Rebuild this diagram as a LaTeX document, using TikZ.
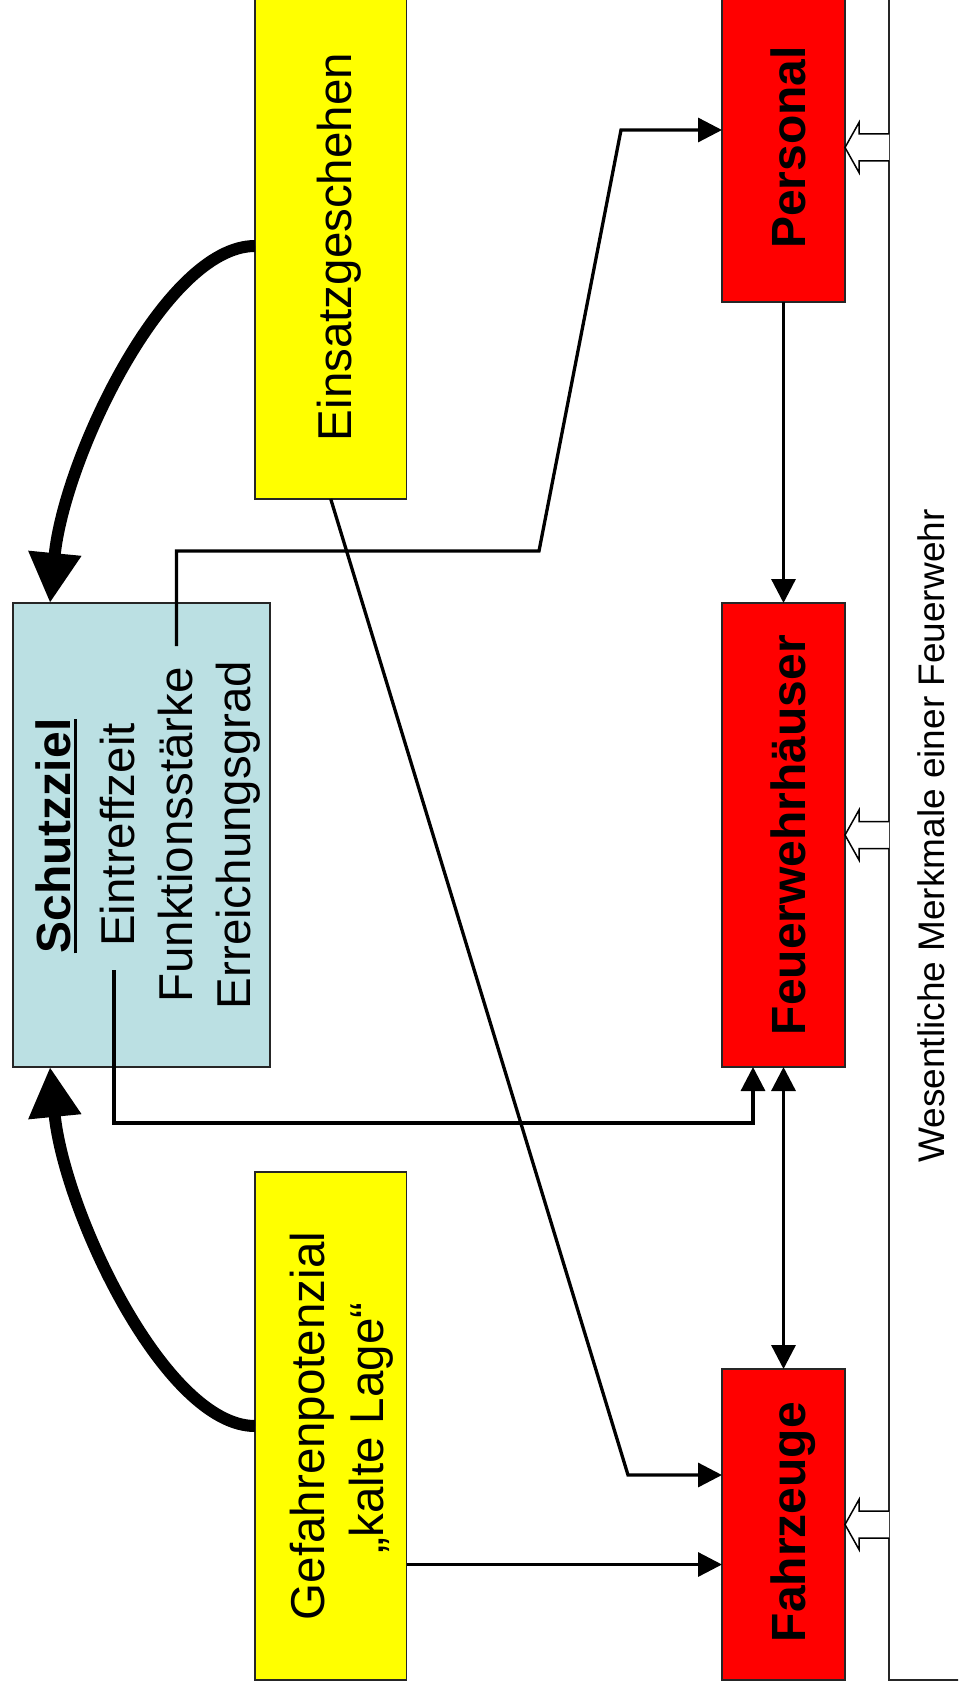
\documentclass[tikz,border=0pt]{standalone}
\usepackage{fontspec}
\setmainfont{Liberation Sans}
\usetikzlibrary{arrows.meta,calc}
\definecolor{boxyellow}{RGB}{255,255,0}
\definecolor{boxred}{RGB}{255,0,0}
\definecolor{boxblue}{RGB}{187,224,227}
\newsavebox\ulbx
\newcommand\ulword[1]{\sbox\ulbx{#1}\rlap{\rule[-7pt]{\wd\ulbx}{3pt}}\usebox\ulbx}
\begin{document}
\begin{tikzpicture}[x=1pt,y=-1pt,
  box/.style={draw=black!85, line width=1.5pt, rectangle, inner sep=0pt, outer sep=0pt},
  lbl/.style={rotate=90, anchor=base, inner sep=0pt},
  big/.style={font=\fontsize{47.5}{56}\selectfont},
  bigbold/.style={font=\fontsize{48}{56}\selectfont\bfseries},
  thinarr/.style={line width=3.3pt, -{Triangle[length=24pt,width=24pt]}},
  twoarr/.style={line width=3.3pt, {Triangle[length=24pt,width=24pt]}-{Triangle[length=24pt,width=24pt]}},
  thickarr/.style={line width=12pt, -{Triangle[length=50pt,width=50pt]}},
  hollowarr/.style={draw=black, line width=1.5pt, fill=white, line join=miter}
]
\useasboundingbox (0,0) rectangle (958,1693);
\clip (0,0) rectangle (958,1693);

% frame holding the characteristics of a fire brigade
\node[box, minimum width=200pt, minimum height=1800pt, anchor=south west] (merk) at (889,1680) {};

% boxes
\node[box, fill=boxyellow, minimum width=151.5pt, minimum height=506pt] (einsatz) at (330.75,246) {};
\node[box, fill=boxyellow, minimum width=151.5pt, minimum height=508pt] (gefahr) at (330.75,1426) {};
\node[box, fill=boxblue, minimum width=257pt, minimum height=464pt] (schutz) at (141.5,835) {};
\node[box, fill=boxred, minimum width=123pt, minimum height=309pt] (pers) at (783.5,147.5) {};
\node[box, fill=boxred, minimum width=123pt, minimum height=464pt] (fwh) at (783.5,835) {};
\node[box, fill=boxred, minimum width=123pt, minimum height=311pt] (fz) at (783.5,1524.5) {};

% block arrows from the frame to the red boxes
\foreach \b in {pers,fwh,fz}
  \draw[hollowarr] ($(\b.east)+(44,-13.5)$) -- ++(-30,0) -- ++(0,-11.5) -- (\b.east)
    -- ++(14,25) -- ++(0,-11.5) -- ++(30,0);

% start points inside the Schutzziel box
\coordinate (funk) at (176.5,646);
\coordinate (eintr) at (114,970);

% thick curved arrows
\draw[thickarr] (einsatz.west) .. controls +(-90,0) and (64,459) .. ([xshift=37pt]schutz.north west);
\draw[thickarr] (gefahr.west) .. controls +(-90,0) and (64,1211) .. ([xshift=37pt]schutz.south west);

% thin connectors
\draw[thinarr] (pers.south) -- (fwh.north);
\draw[twoarr] (fwh.south) -- (fz.north);
\draw[thinarr] (eintr) -- ++(0,153) -| ([xshift=31pt]fwh.south west);
\draw[thinarr] (funk) -- (176.5,551) -- (539,551) -- (621,130) -- ([yshift=17.5pt]pers.west);
\draw[thinarr] (einsatz.south) -- (628,1475) -- ([yshift=49.5pt]fz.west);
\draw[thinarr] ([yshift=-138.5pt]gefahr.east) -- ([yshift=-40pt]fz.west);

% texts
\node[lbl, big] (einsatzT) at (351,247) {Einsatzgeschehen};
\node[lbl, bigbold] (persT) at (805,147.5) {Personal};
\node[lbl, bigbold] (fwhT) at (805,835) {Feuerwehrhäuser};
\node[lbl, bigbold] (fzT) at (805,1522) {Fahrzeuge};
\node[lbl, bigbold] (szA) at (70,836) {\ulword{Schutzziel}};
\node[lbl, big] (szB) at (134,835) {Eintreffzeit};
\node[lbl, big] (szC) at (192,835) {Funktionsstärke};
\node[lbl, big] (szD) at (250,835) {Erreichungsgrad};
\node[lbl, big] (gefA) at (324,1426) {Gefahrenpotenzial};
\node[lbl, big] (gefB) at (383,1428) {„kalte Lage“};
\node[lbl, font=\fontsize{37}{44}\selectfont] (merkT) at (944,836) {Wesentliche Merkmale einer Feuerwehr};
\end{tikzpicture}
\end{document}
